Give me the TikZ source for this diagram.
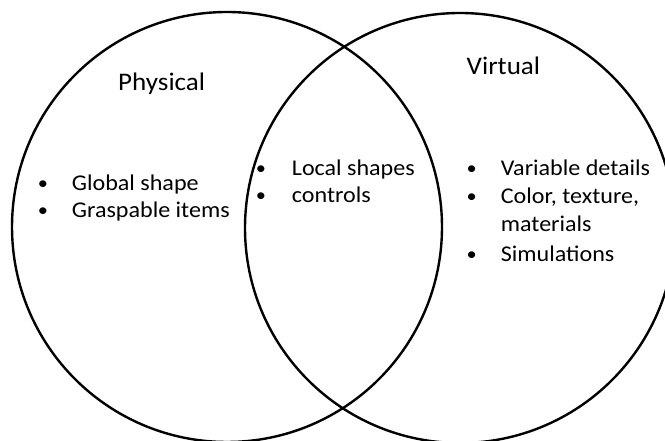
\documentclass[tikz,border=0pt]{standalone}
\usepackage{fontspec}
\setmainfont{Carlito}
\newfontfamily\labelfont[FakeStretch=1.07]{Carlito}
\begin{document}
\begin{tikzpicture}[x=1pt,y=1pt,
  set/.style={circle,draw=black,line width=2.4pt,minimum size=430pt,inner sep=0pt},
  txt/.style={font=\labelfont\fontsize{22.5}{27}\selectfont,inner sep=0pt},
  title/.style={font=\labelfont\fontsize{25.3}{30}\selectfont,inner sep=0pt,anchor=base west},
  bul/.style={font=\labelfont\fontsize{19}{23}\selectfont,inner sep=0pt,anchor=base},
  item/.style={txt,anchor=base west}]
  \useasboundingbox (0,0) rectangle (665,441);
  \clip (0,0) rectangle (665,441);
  \fill[white] (0,0) rectangle (665,441);
  % the two overlapping sets
  \node[set] (phys) at (227,214) {};
  \node[set] (virt) at (460,213) {};
  % set titles
  \node[title] (tphys) at (118,350) {Physical};
  \node[title] (tvirt) at (466.5,366.7) {Virtual};
  % physical only
  \node[bul] (b1) at (43,251) {•};
  \node[item] (i1) at (71.7,250) {Global shape};
  \node[bul] (b2) at (43,224.3) {•};
  \node[item] (i2) at (71.7,223.3) {Graspable items};
  % shared
  \node[bul] (b3) at (261,266) {•};
  \node[item] (i3) at (291.7,265) {Local shapes};
  \node[bul] (b4) at (261,239) {•};
  \node[item] (i4) at (291.7,238) {controls};
  % virtual only
  \node[bul] (b5) at (471.7,266) {•};
  \node[item] (i5) at (500.7,265) {Variable details};
  \node[bul] (b6) at (471.7,238.7) {•};
  \node[item] (i6) at (500.7,237.7) {Color, texture,};
  \node[item] (i7) at (500.7,209.3) {materials};
  \node[bul] (b8) at (471.7,180.3) {•};
  \node[item] (i8) at (500.7,179.3) {Simulations};
\end{tikzpicture}
\end{document}
